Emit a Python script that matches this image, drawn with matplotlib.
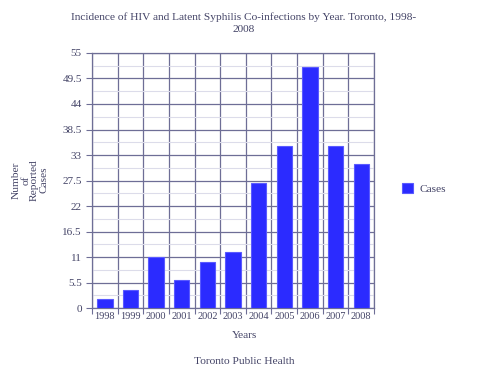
import numpy as np
import matplotlib
matplotlib.use('Agg')
from matplotlib import pyplot as plt
from matplotlib.ticker import MultipleLocator

# data
years = ['1998', '1999', '2000', '2001', '2002', '2003',
         '2004', '2005', '2006', '2007', '2008']
cases = [2, 4, 11, 6, 10, 12, 27, 35, 52, 35, 31]
yticks = [0, 5.5, 11, 16.5, 22, 27.5, 33, 38.5, 44, 49.5, 55]

plt.rcParams['font.family'] = ['Liberation Serif', 'DejaVu Serif']
txt = '#434366'
grid_major = '#6e6e96'
grid_minor = '#dcdcea'

fig = plt.figure(figsize=(4.87, 3.73), dpi=100)
ax = fig.add_axes([0.189, 0.174, 0.579, 0.684])

x = np.arange(len(years))
bars = ax.bar(x, cases, width=0.6, color='#2b2bff', edgecolor='#5a5aff',
              linewidth=0.8, zorder=3, label='Cases')

ax.set_xlim(-0.5, len(years) - 0.5)
ax.set_ylim(0, 55)
ax.set_yticks(yticks)
ax.set_yticklabels([('%g' % v) for v in yticks])
ax.yaxis.set_minor_locator(MultipleLocator(2.75))

# vertical lines sit between the years
ax.set_xticks(np.arange(-0.5, len(years), 1.0))
ax.set_xticklabels([])
ax.set_xticks(x, minor=True)
ax.set_xticklabels(years, minor=True)
ax.tick_params(axis='x', which='minor', length=0, pad=3, labelsize=7.4, labelcolor=txt)
ax.tick_params(axis='x', which='major', length=4, color=grid_major)

ax.grid(True, which='major', axis='both', color=grid_major, linewidth=0.9, zorder=0)
ax.grid(True, which='minor', axis='y', color=grid_minor, linewidth=0.8, zorder=0)
ax.tick_params(axis='y', which='minor', length=0)
ax.tick_params(axis='y', which='major', length=4, color=grid_major,
               labelsize=8, labelcolor=txt)
for s in ax.spines.values():
    s.set_color(grid_major)
    s.set_linewidth(0.9)
ax.set_axisbelow(True)

fs = 8.2
fig.text(0.501, 0.955, 'Incidence of HIV and Latent Syphilis Co-infections by Year. Toronto, 1998-',
         ha='center', va='center', fontsize=fs, color=txt)
fig.text(0.501, 0.922, '2008', ha='center', va='center', fontsize=fs, color=txt)
fig.text(0.501, 0.100, 'Years', ha='center', va='center', fontsize=fs, color=txt)
fig.text(0.501, 0.030, 'Toronto Public Health', ha='center', va='center', fontsize=fs, color=txt)
fig.text(0.062, 0.517, 'Number\nof\nReported\nCases', ha='center', va='center',
         rotation=90, fontsize=fs, color=txt, linespacing=1.0)

leg = fig.legend(handles=[bars], labels=['Cases'], loc='center left',
                 bbox_to_anchor=(0.804, 0.495), frameon=False, fontsize=fs,
                 handlelength=0.95, handleheight=0.95, handletextpad=0.6)
for t in leg.get_texts():
    t.set_color(txt)

fig.savefig('out.png', dpi=100)
